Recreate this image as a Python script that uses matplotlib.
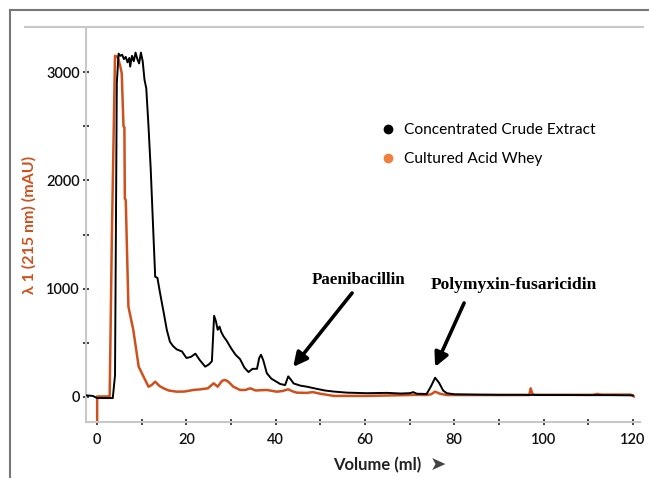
import matplotlib.pyplot as plt
from matplotlib.lines import Line2D
from matplotlib.ticker import MultipleLocator

# black trace: concentrated crude extract
crude_x = [-2.5, -1, 0, 3.5, 4.0, 4.4, 4.8, 5.2, 5.6, 6.0, 6.4, 6.8, 7.2, 7.4, 7.8, 8.2, 8.6,
           9.0, 9.4, 9.8, 10.2, 10.6, 11.0, 11.5, 12.0, 12.5, 13.0, 13.5, 14.0, 14.9, 15.6,
           16.3, 17.0, 17.8, 19.0, 20.0, 21.0, 22.0, 23.0, 24.2, 25.0, 25.7, 26.2, 26.6,
           27.0, 27.4, 27.8, 28.3, 29.0, 30, 31, 32, 33, 33.9, 34.8, 35.8, 36.3, 36.7, 37.2,
           38, 39, 40.2, 41, 42.1, 42.8, 43.4, 44, 45.5, 47, 49.2, 51, 53, 56, 60.4, 64.9,
           68, 70, 70.8, 71.6, 73.8, 74.8, 75.7, 76.6, 77.5, 78.3, 80, 85, 90, 95, 100,
           105, 110, 115, 120]
crude_y = [15, 10, -10, -10, 200, 2900, 3170, 3150, 3160, 3120, 3140, 3090, 3130, 3050, 3150,
           3100, 3180, 3120, 3080, 3180, 3100, 2930, 2850, 2500, 2100, 1600, 1110, 1100, 980,
           780, 620, 510, 470, 440, 420, 360, 370, 400, 340, 280, 300, 330, 750, 700, 620,
           650, 600, 560, 520, 450, 390, 350, 270, 230, 260, 260, 360, 390, 340, 220, 170,
           140, 120, 110, 190, 160, 125, 105, 95, 75, 60, 50, 40, 35, 38, 32, 35, 45, 30, 28,
           100, 178, 130, 60, 35, 25, 22, 20, 20, 18, 18, 17, 17, 15]

# orange trace: cultured acid whey
whey_x = [0, 0, 2.8, 3.3, 4.0, 4.6, 5.2, 5.5, 5.9, 6.1, 6.2, 6.4, 7.0, 8.1, 9.3, 10.4, 11.5,
          12.2, 13.0, 14.0, 14.9, 16, 17.8, 19.5, 21.6, 23, 24.8, 26.1, 27.0, 28.0, 28.7,
          29.4, 30.5, 32, 33.2, 34.3, 35.5, 38, 40.2, 41.5, 42.8, 43.6, 44.7, 47, 48.3, 50,
          53, 60.4, 70, 70.8, 73.8, 74.8, 75.7, 76.8, 78.3, 85, 96.8, 97.1, 97.5, 98, 105,
          111, 112, 113, 119.5, 120.2]
whey_y = [-240, 5, 5, 1500, 3150, 3140, 3050, 2990, 2500, 2490, 1830, 1820, 834, 618, 280,
          187, 95, 110, 141, 100, 80, 60, 49, 50, 65, 70, 80, 126, 95, 150, 157, 140, 95, 65,
          65, 80, 60, 65, 49, 55, 71, 55, 40, 38, 45, 30, 10, 10, 18, 20, 18, 25, 49, 30, 18,
          18, 18, 80, 30, 20, 20, 20, 28, 22, 22, 5]

series_names = ["Concentrated Crude Extract", "Cultured Acid Whey"]
peak_names = ["Paenibacillin", "Polymyxin-fusaricidin"]
peak_x = [43.9, 75.7]

orange = '#d0501c'

fig = plt.figure(figsize=(6.49, 4.78), dpi=100)
W, H = 649, 478
ax = fig.add_axes([86 / W, 1 - 422 / H, (640 - 86) / W, (422 - 28) / H])

ax.plot(whey_x, whey_y, color=orange, lw=1.8, zorder=2)
ax.plot(crude_x, crude_y, color='black', lw=1.4, zorder=3)

ax.set_xlim(-2.5, 121.6)
ax.set_ylim(-231, 3407)

for s in ['top', 'right']:
    ax.spines[s].set_visible(False)
for s in ['left', 'bottom']:
    ax.spines[s].set_color('#c8c8c8')
    ax.spines[s].set_linewidth(1.5)

ax.xaxis.set_major_locator(MultipleLocator(20))
ax.xaxis.set_minor_locator(MultipleLocator(10))
ax.yaxis.set_major_locator(MultipleLocator(1000))
ax.yaxis.set_minor_locator(MultipleLocator(500))
ax.tick_params(axis='both', which='both', direction='inout', color='#333333', width=1.3,
               labelsize=10.5, labelcolor='#111111')
ax.tick_params(axis='x', which='both', length=4, pad=6)
ax.tick_params(axis='y', which='major', length=5, pad=2)
ax.tick_params(axis='y', which='minor', length=4)
for lab in ax.get_xticklabels() + ax.get_yticklabels():
    lab.set_family('Lato')
    lab.set_weight('semibold')

# annotations
arrow_style = dict(arrowstyle='-|>', lw=2.6, color='black', mutation_scale=21,
                   shrinkA=0, shrinkB=0)
ax.annotate('', xy=(peak_x[0], 277), xytext=(57.1, 960), arrowprops=arrow_style)
ax.annotate('', xy=(peak_x[1], 277), xytext=(82.2, 868), arrowprops=arrow_style)
ax.text(58.5, 1080, peak_names[0], family='Liberation Serif', weight='bold', fontsize=12.2,
        ha='center', va='center')
ax.text(93.4, 1034, peak_names[1], family='Liberation Serif', weight='bold', fontsize=12.6,
        ha='center', va='center')

handles = [Line2D([], [], marker='o', ls='', color='black', markersize=6),
           Line2D([], [], marker='o', ls='', color='#f07e3c', markersize=6)]
fig.legend(handles, series_names, loc='upper left', bbox_to_anchor=(372 / W, 1 - 117 / H),
           frameon=False, prop={'family': 'Lato', 'size': 11.2}, handletextpad=0.45,
           labelspacing=0.95, handlelength=1.2, borderaxespad=0)

ax.set_ylabel('λ 1 (215 nm) (mAU)', color=orange, fontsize=11.5, weight='bold',
              family=['Lato', 'DejaVu Sans'], labelpad=7)
fig.text(333 / W, 1 - 465 / H, 'Volume (ml)', family='Lato', weight='bold', fontsize=12,
         color='#222222', ha='left', va='center')
fig.text(430 / W, 1 - 465 / H, '➤', family='DejaVu Sans', fontsize=14,
         color='#444444', ha='left', va='center')

# surrounding frame lines of the original screenshot
fig.add_artist(Line2D([10 / W, 10 / W], [0, 1 - 10 / H], color='#777777', lw=1.5))
fig.add_artist(Line2D([10 / W, 1], [1 - 10 / H, 1 - 10 / H], color='#777777', lw=1.5))
fig.add_artist(Line2D([25 / W, 643 / W], [1 - 27 / H, 1 - 27 / H], color='#c8c8c8', lw=1.5))

fig.savefig('out.png', dpi=100)
